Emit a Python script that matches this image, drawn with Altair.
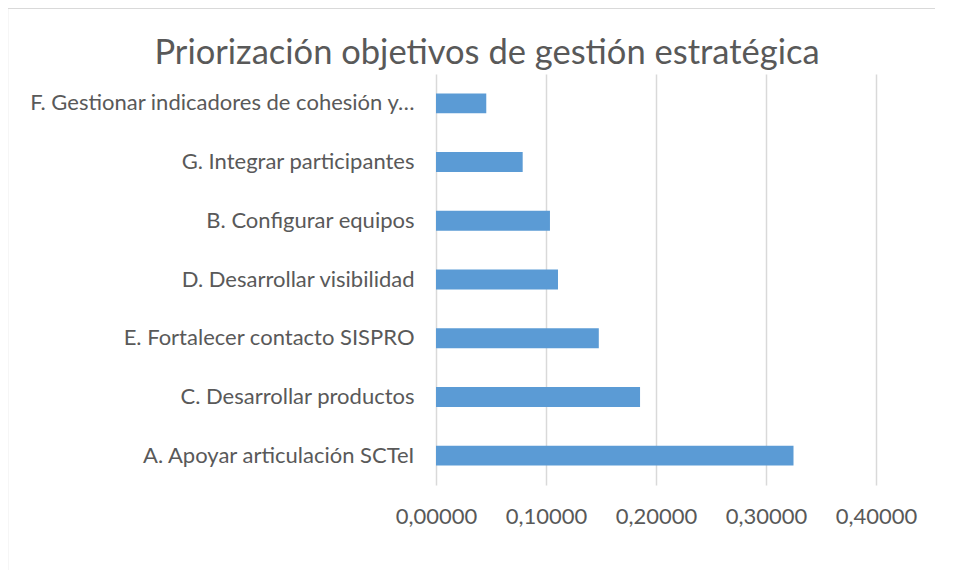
import altair as alt
import pandas as pd

categories = [
    "F. Gestionar indicadores de cohesión y…",
    "G. Integrar participantes",
    "B. Configurar equipos",
    "D. Desarrollar visibilidad",
    "E. Fortalecer contacto SISPRO",
    "C. Desarrollar productos",
    "A. Apoyar articulación SCTeI",
]
values = [0.0457, 0.0788, 0.1036, 0.1109, 0.1480, 0.1855, 0.3250]
x_ticks = [0.0, 0.1, 0.2, 0.3, 0.4]
title_text = "Priorización objetivos de gestión estratégica"

df = pd.DataFrame({"cat": categories, "val": values})

FONT = "Lato"
GRAY = "#595959"
FS = 22

bars = alt.Chart(df).mark_bar(color="#5B9BD5").encode(
    x=alt.X(
        "val:Q",
        scale=alt.Scale(domain=[0, 0.4], nice=False),
        axis=alt.Axis(
            values=x_ticks,
            labelExpr="replace(format(datum.value, '.5f'), '.', ',')",
            title=None,
            domain=False,
            ticks=False,
            grid=True,
            gridColor="#d9d9d9",
            gridWidth=1.5,
            labelFont=FONT,
            labelFontSize=FS,
            labelColor=GRAY,
            labelPadding=21,
            labelFlush=False,
            labelOverlap=False,
        ),
    ),
    y=alt.Y(
        "cat:N",
        sort=categories,
        scale=alt.Scale(paddingInner=0.66, paddingOuter=0.33),
        axis=alt.Axis(
            title=None,
            domain=False,
            ticks=False,
            labelFont=FONT,
            labelFontSize=FS,
            labelColor=GRAY,
            labelPadding=22,
            labelLimit=600,
        ),
    ),
)

one = alt.Data(values=[{"t": title_text}])

left_line = alt.Chart(one).mark_rule(color="#d9d9d9", strokeWidth=1.5).encode(
    x=alt.value(-428.5), y=alt.value(-66), y2=alt.value(500),
)
top_line = alt.Chart(one).mark_rect(color="#d9d9d9").encode(
    x=alt.value(-429), x2=alt.value(499), y=alt.value(-66.5), y2=alt.value(-65),
)

title = alt.Chart(one).mark_text(
    font=FONT, fontSize=34.5, color=GRAY, align="center", baseline="middle"
).encode(
    text="t:N", x=alt.value(51), y=alt.value(-20),
)

chart = alt.layer(left_line, top_line, bars, title).properties(
    width=440,
    height=411,
    autosize=alt.AutoSizeParams(type="none"),
    padding={"left": 428, "top": 66, "right": 60, "bottom": 85},
).configure_view(stroke=None)

chart.save("out.html", embed_options={"renderer": "svg", "actions": False})
